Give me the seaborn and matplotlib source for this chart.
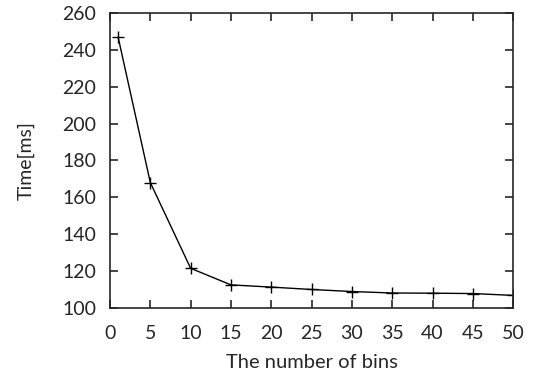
import pandas as pd
import seaborn as sns
import matplotlib.pyplot as plt

bins = [1, 5, 10, 15, 20, 25, 30, 35, 40, 45, 50]
time_ms = [247, 168, 121.5, 112.5, 111.3, 110, 108.9, 108.1, 108, 107.8, 106.8]

sns.set_style("ticks")
plt.rcParams['font.family'] = ['Lato', 'DejaVu Sans']

df = pd.DataFrame({'bins': bins, 'time': time_ms})

fig, ax = plt.subplots(figsize=(5.34, 3.71), dpi=100)
sns.lineplot(data=df, x='bins', y='time', marker='+', color='black',
             linewidth=1, markersize=8, markeredgewidth=1,
             markeredgecolor='black', ax=ax)

ax.set_xlim(0, 50)
ax.set_ylim(100, 260)
ax.set_xticks(range(0, 51, 5))
ax.set_yticks(range(100, 261, 20))
ax.tick_params(direction='in', top=True, right=True, labelsize=14, length=6, width=1.2, pad=10)
ax.tick_params(axis='x', pad=12)
for s in ax.spines.values():
    s.set_linewidth(1.2)
ax.set_xlabel('The number of bins', fontsize=14.5, labelpad=9)
ax.set_ylabel('Time[ms]', fontsize=14, labelpad=20)

fig.subplots_adjust(left=0.206, right=0.961, top=0.965, bottom=0.17)
fig.savefig('out.png', dpi=100)
